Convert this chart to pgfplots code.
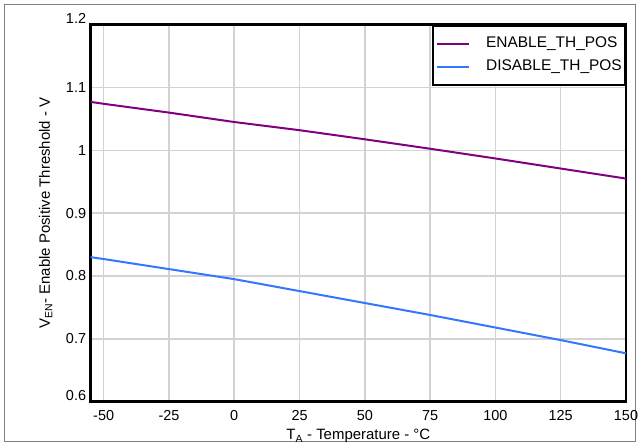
\documentclass[border=0pt]{standalone}
\usepackage{pgfplots}
\pgfplotsset{compat=1.18}
\usepackage{fontspec}
\setmainfont{Liberation Sans}
\definecolor{enpurple}{RGB}{128,0,128}
\definecolor{disblue}{RGB}{51,119,255}
\definecolor{gridgray}{RGB}{211,211,211}
\definecolor{framegray}{RGB}{128,128,128}
\begin{document}
\begin{tikzpicture}
\useasboundingbox (0,0) rectangle (640bp,446bp);
\draw[framegray, line width=1bp] (4.5bp,4.5bp) rectangle (635.5bp,441.5bp);
\begin{axis}[
  at={(90.6bp,44.3bp)}, anchor=south west,
  width=535.4bp, height=377.1bp, scale only axis,
  xmin=-55, xmax=150, ymin=0.6, ymax=1.2,
  xtick={-50,-25,0,25,50,75,100,125,150},
  xticklabels={-50,-25,0,25,50,75,100,125,150},
  ytick={0.6,0.7,0.8,0.9,1,1.1,1.2},
  yticklabels={\raisebox{6bp}[\height][\depth]{0.6},0.7,0.8,0.9,1,1.1,\raisebox{6bp}[\height][\depth]{1.2}},
  major tick length=0pt,
  grid=major,
  major grid style={line width=1.5bp, gridgray},
  axis line style={line width=2.5bp, black},
  xticklabel style={font=\fontsize{14.5}{17}\selectfont, anchor=base, yshift=-19bp},
  yticklabel style={font=\fontsize{14.5}{17}\selectfont, anchor=east, xshift=-1bp},
  xlabel={T\textsubscript{A} - Temperature - °C},
  ylabel={V\textsubscript{EN}- Enable Positive Threshold - V},
  xlabel style={font=\fontsize{15}{18}\selectfont, at={([yshift=-38.3bp]axis description cs:0.5,0)}, anchor=base},
  ylabel style={font=\fontsize{15}{18}\selectfont, at={([xshift=-40.6bp]axis description cs:0,0.5)}, anchor=base},
  legend style={at={(rel axis cs:1,1)}, anchor=north east, draw=black, line width=2.5bp, fill=white,
    font=\fontsize{15.5}{18}\selectfont, inner xsep=3bp, inner ysep=10.5bp, row sep=8bp, column sep=16bp,
    nodes={inner sep=0pt, text height=11bp, text depth=4bp}},
  legend cell align=left,
  legend image code/.code={\draw[#1, line width=2bp] (0bp,0bp) -- (32bp,0bp);},
]
\addplot[enpurple, line width=2bp] coordinates {
(-55,1.077) (-50,1.074) (-25,1.060) (0,1.045) (25,1.032) (50,1.0175) (75,1.0025) (100,0.987) (125,0.971) (150,0.955)
};
\addlegendentry{ENABLE\_TH\_POS}
\addplot[disblue, line width=2bp] coordinates {
(-55,0.830) (-50,0.827) (-25,0.811) (0,0.795) (25,0.776) (50,0.757) (75,0.738) (100,0.718) (125,0.698) (150,0.677)
};
\addlegendentry{DISABLE\_TH\_POS}
\end{axis}
\end{tikzpicture}
\end{document}
